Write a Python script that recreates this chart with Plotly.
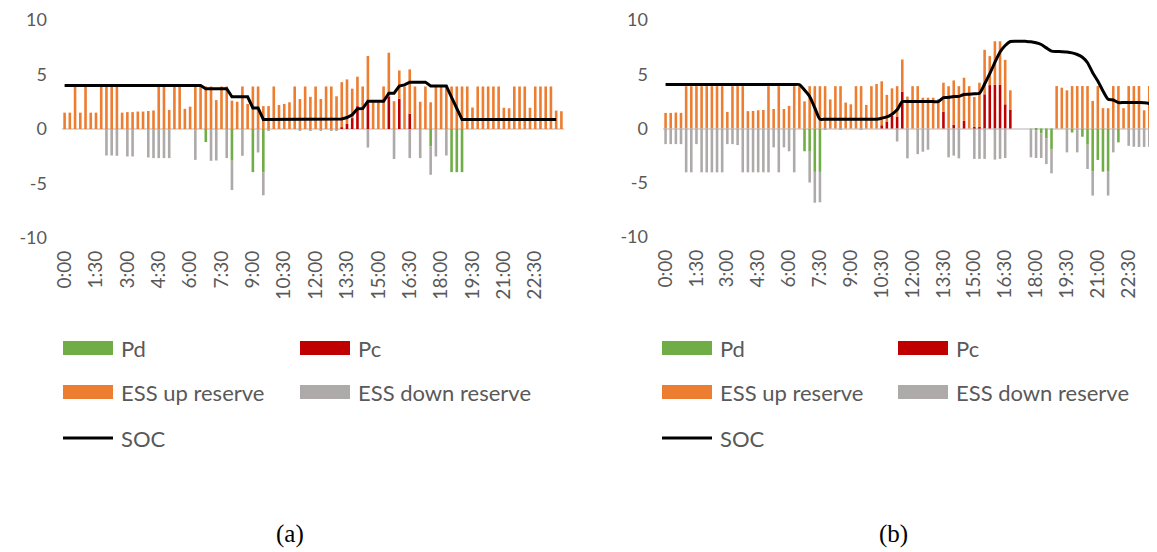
import plotly.graph_objects as go

# ---------------- data ----------------
times = [f"{h}:{m:02d}" for h in range(24) for m in (0, 15, 30, 45)]
tick_labels = times[::6]
y_ticks = [-10, -5, 0, 5, 10]
y_tick_text = ["-10", "-5", "0", "5", "10"]

# Panel (a)
pd_a = [0]*96
for i, v in {27: -1.2, 32: -2.9, 36: -3.96, 38: -3.96, 70: -1.6, 74: -3.96, 75: -3.96, 76: -3.96}.items():
    pd_a[i] = v
pc_a = [0]*96
for i, v in {53: 0.15, 54: 0.5, 55: 1.0, 56: 2.1, 58: 2.6, 62: 3.0, 64: 2.77, 66: 1.41}.items():
    pc_a[i] = v
up_a = [1.5, 1.5, 3.9, 1.5, 3.9, 1.5, 1.5, 3.9, 3.9, 3.9,
        3.9, 1.5, 1.55, 1.55, 1.6, 1.6, 1.65, 1.7, 3.9, 3.9,
        1.75, 3.9, 3.9, 1.85, 2.05, 3.9, 3.9, 3.9, 3.9, 2.65,
        3.9, 3.9, 2.6, 2.5, 3.9, 2.3, 3.9, 3.9, 2.1, 2.1,
        3.9, 2.2, 2.3, 2.45, 3.9, 2.75, 3.9, 2.95, 3.9, 2.75,
        3.9, 3.9, 3.0, 4.15, 4.05, 2.7, 2.7, 3.9, 4.1, 2.5,
        2.5, 3.9, 4.0, 2.55, 2.6, 3.9, 4.06, 3.9, 2.5, 3.9,
        2.45, 3.9, 3.9, 3.9, 3.9, 3.9, 3.9, 3.9, 1.97, 3.9,
        3.9, 3.9, 3.9, 3.9, 1.95, 1.9, 3.9, 3.9, 3.9, 1.95,
        3.9, 3.9, 3.9, 3.9, 1.69, 1.63]
down_a = [0]*96
for i, v in {8: -2.43, 9: -2.43, 10: -2.46, 12: -2.52, 13: -2.52, 16: -2.61, 17: -2.67,
             18: -2.67, 19: -2.67, 20: -2.67, 25: -2.83, 28: -2.92, 29: -2.89, 31: -2.67,
             32: -2.7, 34: -2.46, 37: -2.15, 38: -2.12, 39: -0.15, 45: -0.15, 47: -0.15,
             49: -0.15, 51: -0.15, 52: -0.15, 58: -1.7, 63: -2.75, 66: -2.67, 68: -2.67,
             70: -2.6, 71: -2.52, 73: -2.43}.items():
    down_a[i] = v
soc_a = ([4.0]*27 + [3.7]*5 + [2.95]*4 + [1.93]*2 + [0.88]*15 +
         [0.92, 1.05, 1.3, 1.85, 1.87, 2.55, 2.55, 2.55, 2.55, 3.28, 3.28, 3.93, 4.05,
          4.3, 4.3, 4.3, 4.3, 3.95, 3.95, 3.95, 3.95, 2.9, 1.88] + [0.88]*19)

# Panel (b)
pd_b = [0]*96
for i, v in {27: -2.1, 28: -2.14, 29: -4.0, 30: -4.0, 72: -0.15, 73: -0.46, 74: -0.89,
             75: -1.9, 79: -0.37, 81: -0.76, 82: -1.5, 83: -3.98, 84: -2.9, 85: -3.98,
             86: -3.98, 88: -1.28, 95: -1.6}.items():
    pd_b[i] = v
pc_b = [0]*96
for i, v in {42: 0.3, 43: 0.65, 44: 1.16, 45: 1.1, 46: 3.39, 54: 1.53, 56: 0.34, 58: 0.7,
             60: 0.15, 61: 0.15, 62: 3.15, 63: 4.0, 64: 4.04, 65: 4.04, 66: 2.23, 67: 1.71}.items():
    pc_b[i] = v
up_b = [1.44, 1.44, 1.47, 1.44, 3.9, 3.9, 3.9, 3.9, 3.9, 3.9,
        3.9, 3.9, 1.53, 3.9, 3.9, 3.9, 1.6, 1.62, 1.68, 1.71,
        3.9, 1.8, 3.9, 1.8, 2.08, 3.9, 3.9, 2.5, 3.9, 3.9,
        3.9, 3.9, 2.68, 3.9, 3.9, 2.39, 2.23, 3.9, 3.9, 2.17,
        3.9, 4.1, 4.05, 2.45, 2.54, 2.8, 2.97, 2.94, 3.9, 3.9,
        2.84, 2.84, 2.84, 2.7, 2.69, 3.9, 4.09, 3.9, 3.98, 3.9,
        2.75, 4.07, 4.1, 2.67, 4.0, 4.0, 4.1, 1.81, 0, 0,
        0, 0, 0, 0, 0, 0, 3.91, 3.76, 3.52, 3.91,
        3.91, 3.91, 3.91, 2.54, 3.91, 1.87, 1.87, 3.91, 3.91, 1.87,
        3.91, 3.91, 3.91, 1.68, 3.91, 1.53]
down_b = [0]*96
for i, v in {0: -1.44, 1: -1.44, 2: -1.44, 3: -1.44, 4: -4.04, 5: -4.04, 6: -1.44, 7: -4.04,
             8: -4.04, 9: -4.04, 10: -4.04, 11: -4.04, 12: -1.44, 13: -1.44, 14: -1.53,
             15: -4.04, 16: -4.04, 17: -4.04, 18: -4.04, 19: -4.04, 20: -4.04, 21: -1.74,
             22: -4.04, 23: -1.74, 24: -2.1, 25: -4.04, 28: -2.84, 29: -2.84, 30: -2.8,
             31: -0.1, 34: -0.1, 38: -0.1, 45: -1.2, 47: -2.75, 49: -2.36, 50: -2.14,
             51: -1.96, 55: -2.66, 56: -2.5, 57: -2.75, 60: -2.8, 61: -2.8, 62: -2.8,
             64: -2.87, 65: -2.8, 66: -2.72, 71: -2.66, 72: -2.57, 73: -2.26, 74: -2.39,
             75: -2.23, 78: -2.2, 80: -2.2, 82: -2.23, 83: -2.2, 86: -2.2, 87: -2.2,
             90: -1.6, 91: -1.68, 92: -1.7, 93: -1.7, 94: -1.68, 95: -1.6}.items():
    down_b[i] = v
soc_b = ([4.05]*27 + [3.55, 2.95, 1.9] + [0.86]*12 +
         [0.95, 1.07, 1.32, 1.72, 2.48, 2.48, 2.48, 2.48, 2.48, 2.48, 2.48, 2.48,
          2.85, 2.87, 2.95, 2.96, 3.14, 3.16, 3.2, 3.24, 4.1, 5.05, 6.1, 7.05, 7.65, 8.02,
          8.05, 8.05, 8.03, 8.0, 7.9, 7.74, 7.43, 7.13, 7.1, 7.08, 7.05, 6.97, 6.82, 6.57,
          6.06, 5.14, 4.37, 3.46, 2.69, 2.63, 2.39, 2.39, 2.39, 2.39, 2.39, 2.38, 2.3, 2.0])

# ---------------- styling ----------------
C_PD, C_PC, C_UP, C_DN = "#70AD47", "#C00000", "#ED7D31", "#AEAAAA"
TXT = "#595959"
OFF = 8                      # page body margin
W, H = 1157 - OFF, 552 - OFF
FONT = "Lato"

fig = go.Figure()


def add_panel(xa, ya, pd_, pc_, up_, dn_, soc_, shape):
    for vals, col, name in ((pd_, C_PD, "Pd"), (pc_, C_PC, "Pc"),
                            (up_, C_UP, "ESS up reserve"), (dn_, C_DN, "ESS down reserve")):
        fig.add_bar(x=times, y=vals, name=name, marker_color=col, marker_line_width=0,
                    xaxis=xa, yaxis=ya, showlegend=False)
    fig.add_scatter(x=times, y=soc_, name="SOC", mode="lines",
                    line=dict(color="black", width=3, shape=shape, smoothing=0.6),
                    xaxis=xa, yaxis=ya, showlegend=False)


add_panel("x", "y", pd_a, pc_a, up_a, down_a, soc_a, "linear")
add_panel("x2", "y2", pd_b, pc_b, up_b, down_b, soc_b, "spline")


def px(x):
    return (x - OFF) / W


def py(y):
    return 1 - (y - OFF) / H


def xa_cfg(d0, d1, anchor):
    return dict(domain=[px(d0), min(1.0, px(d1))], type="category", range=[-0.5, 95.5],
                tickmode="array", tickvals=tick_labels, ticktext=tick_labels,
                tickangle=-90, ticks="", showgrid=False, showline=False, zeroline=False,
                tickfont=dict(size=19, color=TXT, family=FONT), ticklabelstandoff=8,
                ticklabeloverflow="allow", automargin=False, anchor=anchor)


def ya_cfg(top, bot, anchor):
    return dict(domain=[py(bot), py(top)], range=[-10, 10],
                tickmode="array", tickvals=y_ticks, ticktext=y_tick_text,
                ticks="", showgrid=False, showline=False,
                zeroline=True, zerolinecolor="#D9D9D9", zerolinewidth=2,
                tickfont=dict(size=18, color=TXT, family=FONT), ticklabelstandoff=14,
                ticklabeloverflow="allow", automargin=False, anchor=anchor)


fig.update_layout(
    width=W, height=H, margin=dict(l=0, r=0, t=0, b=0, autoexpand=False),
    paper_bgcolor="white", plot_bgcolor="white",
    barmode="relative", bargap=0.5, showlegend=False,
    font=dict(family=FONT, color=TXT),
    xaxis=xa_cfg(62, 564, "y"),
    yaxis=ya_cfg(20, 238, "x"),
    xaxis2=xa_cfg(663, 1157, "y2"),
    yaxis2=ya_cfg(20, 237, "x2"),
)

# ---------------- custom legends ----------------
shapes, annos = [], []
rows = [348, 392, 438]


def legend(x1, x2):
    items = [(x1, rows[0], C_PD, "Pd", "bar"), (x2, rows[0], C_PC, "Pc", "bar"),
             (x1, rows[1], C_UP, "ESS up reserve", "bar"), (x2, rows[1], C_DN, "ESS down reserve", "bar"),
             (x1, rows[2], "black", "SOC", "line")]
    for x, y, col, label, kind in items:
        if kind == "bar":
            shapes.append(dict(type="rect", xref="paper", yref="paper", x0=px(x), x1=px(x + 50),
                               y0=py(y + 7), y1=py(y - 7), fillcolor=col, line=dict(width=0)))
        else:
            shapes.append(dict(type="line", xref="paper", yref="paper", x0=px(x), x1=px(x + 50),
                               y0=py(y), y1=py(y), line=dict(color=col, width=3)))
        annos.append(dict(xref="paper", yref="paper", x=px(x + 56), y=py(y), text=label,
                          showarrow=False, xanchor="left", yanchor="middle",
                          font=dict(size=22, color=TXT, family=FONT)))


legend(63, 300)
legend(662, 898)

for lab, cx in (("(a)", 290), ("(b)", 893)):
    annos.append(dict(xref="paper", yref="paper", x=px(cx), y=py(534), text=lab, showarrow=False,
                      xanchor="center", yanchor="middle",
                      font=dict(size=25, color="black", family="Liberation Serif")))

fig.update_layout(shapes=shapes, annotations=annos)
fig.write_html("out.html")
